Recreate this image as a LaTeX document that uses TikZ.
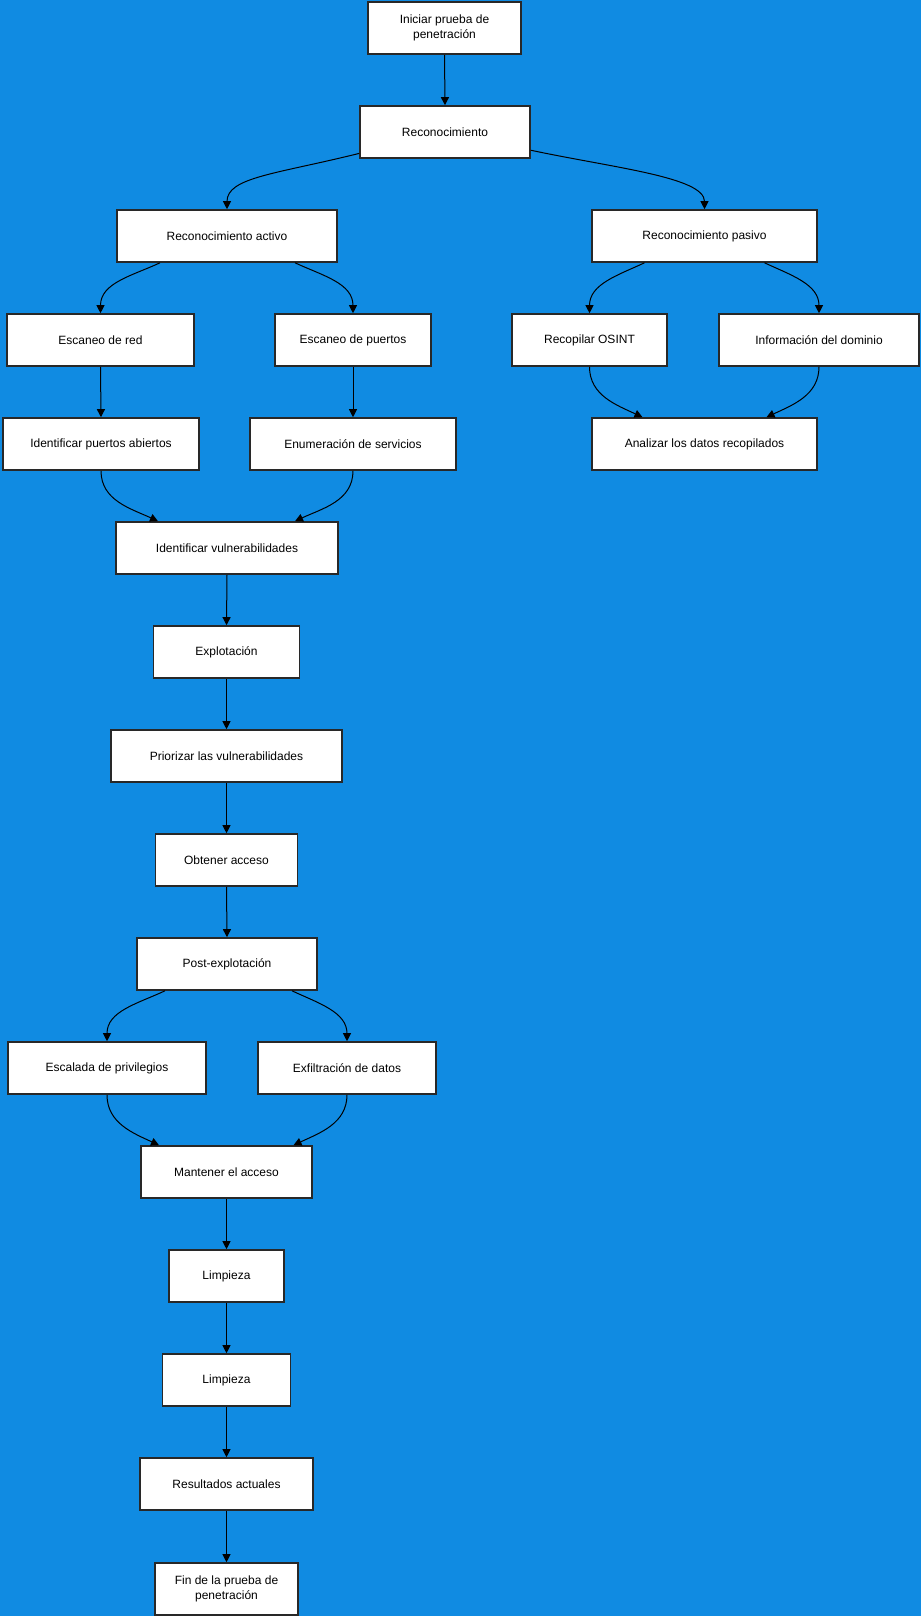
\documentclass[tikz,border=0pt]{standalone}
\usepackage{fontspec}
\setmainfont{Liberation Sans}
\usetikzlibrary{arrows.meta,calc}
\definecolor{bg}{RGB}{16,139,226}
\definecolor{edge}{RGB}{40,40,40}
\begin{document}
\begin{tikzpicture}[x=1pt,y=-1pt,
  box/.style={draw=edge,fill=white,line width=1.6pt,rectangle,inner sep=0pt,
    minimum height=52pt,align=center,font=\fontsize{12}{15}\selectfont},
  link/.style={draw=black,line width=1pt,-{Triangle[length=8pt,width=8pt]}},
  splitL/.style={link,out=205,in=90},
  splitR/.style={link,out=-25,in=90},
  joinL/.style={link,out=-90,in=155},
  joinR/.style={link,out=-90,in=25}]
\fill[bg] (0,0) rectangle (921,1616);
\useasboundingbox (0,0) rectangle (921,1616);

% nodes
\node[box,minimum width=153pt] (start) at (444.5,28) {Iniciar prueba de\\penetración};
\node[box,minimum width=170pt] (rec) at (445,132) {Reconocimiento};
\node[box,minimum width=220pt] (act) at (227,236) {Reconocimiento activo};
\node[box,minimum width=225pt] (pas) at (704.5,236) {Reconocimiento pasivo};
\node[box,minimum width=187pt] (red) at (100.5,340) {Escaneo de red};
\node[box,minimum width=156pt] (pue) at (353,340) {Escaneo de puertos};
\node[box,minimum width=155pt] (osi) at (589.5,340) {Recopilar OSINT};
\node[box,minimum width=200pt] (dom) at (819,340) {Información del dominio};
\node[box,minimum width=196pt] (abi) at (101,444) {Identificar puertos abiertos};
\node[box,minimum width=206pt] (enu) at (353,444) {Enumeración de servicios};
\node[box,minimum width=225pt] (ana) at (704.5,444) {Analizar los datos recopilados};
\node[box,minimum width=222pt] (vul) at (227,548) {Identificar vulnerabilidades};
\node[box,minimum width=146pt] (exp) at (226.5,652) {Explotación};
\node[box,minimum width=231pt] (pri) at (226.5,756) {Priorizar las vulnerabilidades};
\node[box,minimum width=142pt] (obt) at (226.5,860) {Obtener acceso};
\node[box,minimum width=180pt] (pos) at (227,964) {Post-explotación};
\node[box,minimum width=198pt] (esc) at (107,1068) {Escalada de privilegios};
\node[box,minimum width=178pt] (exf) at (347,1068) {Exfiltración de datos};
\node[box,minimum width=171pt] (man) at (226.5,1172) {Mantener el acceso};
\node[box,minimum width=115pt] (lim) at (226.5,1276) {Limpieza};
\node[box,minimum width=128pt] (lim2) at (226.5,1380) {Limpieza};
\node[box,minimum width=173pt] (res) at (226.5,1484) {Resultados actuales};
\node[box,minimum width=143pt] (fin) at (226.5,1589) {Fin de la prueba de\\penetración};

% connectors (y axis points down, so polar angles below the horizontal are positive)
\draw[link] (start.south) -- (rec.north);
\draw[link] (rec.194) .. controls +(166:85) and +(0,-32) .. (act.north);
\draw[link] (rec.-12) .. controls +(12:85) and +(0,-32) .. (pas.north);
\draw[splitL] ($(act.south)+(-67,0)$) to (red.north);
\draw[splitR] ($(act.south)+(68,0)$) to (pue.north);
\draw[splitL] ($(pas.south)+(-60,0)$) to (osi.north);
\draw[splitR] ($(pas.south)+(60,0)$) to (dom.north);
\draw[joinL] (osi.south) to ($(ana.north)+(-62,0)$);
\draw[joinR] (dom.south) to ($(ana.north)+(62,0)$);
\draw[link] (red.south) -- (abi.north);
\draw[link] (pue.south) -- (enu.north);
\draw[joinL] (abi.south) to ($(vul.north)+(-69,0)$);
\draw[joinR] (enu.south) to ($(vul.north)+(68,0)$);
\draw[link] (vul.south) -- (exp.north);
\draw[link] (exp.south) -- (pri.north);
\draw[link] (pri.south) -- (obt.north);
\draw[link] (obt.south) -- (pos.north);
\draw[splitL] ($(pos.south)+(-62,0)$) to (esc.north);
\draw[splitR] ($(pos.south)+(65,0)$) to (exf.north);
\draw[joinL] (esc.south) to ($(man.north)+(-67.5,0)$);
\draw[joinR] (exf.south) to ($(man.north)+(67,0)$);
\draw[link] (man.south) -- (lim.north);
\draw[link] (lim.south) -- (lim2.north);
\draw[link] (lim2.south) -- (res.north);
\draw[link] (res.south) -- (fin.north);
\end{tikzpicture}
\end{document}
